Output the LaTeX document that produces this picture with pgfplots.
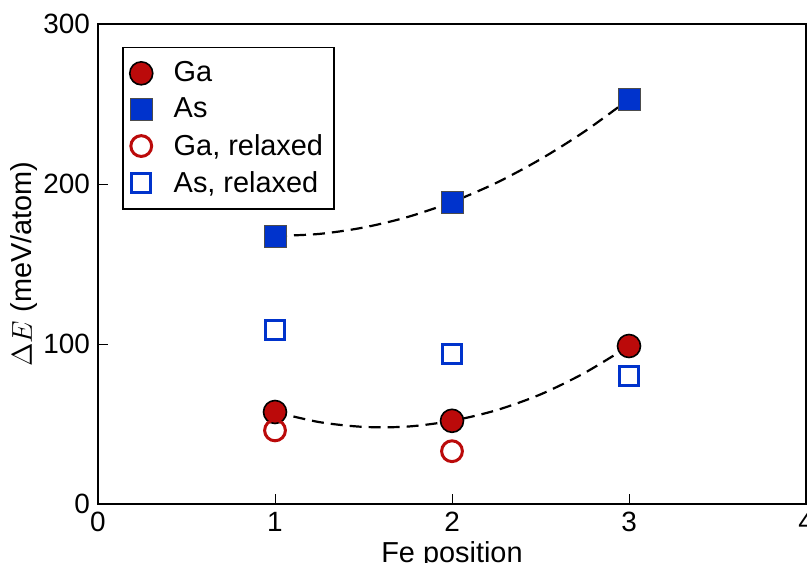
\documentclass[border=0pt]{standalone}
\usepackage{pgfplots}
\pgfplotsset{compat=1.18}
\usepackage{fontspec}
\setmainfont{Liberation Sans}
\definecolor{gared}{RGB}{187,10,10}
\definecolor{asblue}{RGB}{0,51,204}
\begin{document}
\begin{tikzpicture}
\begin{axis}[
  width=354bp, height=240bp, scale only axis,
  xmin=0, xmax=4, ymin=0, ymax=300,
  xtick={0,1,2,3,4}, ytick={0,100,200,300},
  minor tick num=0,
  tick align=inside, xtick pos=bottom, ytick pos=left,
  major tick length=5bp,
  axis line style={line width=1bp},
  every tick/.style={black, line width=0.5bp},
  tick label style={font=\fontsize{14}{16}\selectfont},
  /pgf/number format/assume math mode=true,
  xticklabel style={yshift=-0.5bp},
  yticklabel style={xshift=-0.5bp},
  xlabel={Fe position},
  ylabel={$\Delta E$ (meV/atom)},
  label style={font=\fontsize{14.5}{16}\selectfont},
  xlabel style={yshift=2bp},
  ylabel style={yshift=-4bp},
  legend style={at={(axis description cs:0,1)}, anchor=north west,
    xshift=12bp, yshift=-11.5bp, draw=black, line width=0.75bp,
    font=\fontsize{14.5}{16}\selectfont, row sep=2.6bp, column sep=8.5bp,
    inner xsep=3.5bp, inner ysep=5bp},
  legend cell align=left,
]
\addplot[black, dash pattern=on 6bp off 3.5bp, line width=1.1bp, smooth, forget plot] coordinates {
 (1,57.5) (1.25,51.2) (1.5,48.2) (1.75,48.4) (2,52) (2.25,58.6) (2.5,68.5) (2.75,82) (3,98.75)};
\addplot[black, dash pattern=on 6bp off 3.5bp, line width=1.1bp, smooth, forget plot] coordinates {
 (1,167.5) (1.25,168.8) (1.5,172.8) (1.75,179.4) (2,188.75) (2.25,200.7) (2.5,215.5) (2.75,232.9) (3,253)};
\addplot[only marks, mark=*, mark size=5.75bp, mark options={fill=gared, draw=black, line width=0.8bp}] coordinates {(1,57.5) (2,52) (3,98.75)};
\addlegendentry{Ga}
\addplot[only marks, mark=square*, mark size=5.5bp, mark options={fill=asblue, draw=black!70, line width=0.4bp}] coordinates {(1,167.5) (2,188.75) (3,253)};
\addlegendentry{As}
\addplot[only marks, mark=o, mark size=5.2bp, mark options={draw=gared, line width=1.5bp}] coordinates {(1,46) (2,33)};
\addlegendentry{Ga, relaxed}
\addplot[only marks, mark=square, mark size=4.8bp, mark options={draw=asblue, line width=1.5bp}] coordinates {(1,109) (2,94) (3,80)};
\addlegendentry{As, relaxed}
\coordinate (A) at (rel axis cs:0,0);
\coordinate (B) at (rel axis cs:1,1);
\end{axis}
\pgfresetboundingbox
\useasboundingbox ([xshift=-49bp,yshift=-29bp]A) rectangle ([xshift=0.5bp,yshift=12bp]B);
\end{tikzpicture}
\end{document}
